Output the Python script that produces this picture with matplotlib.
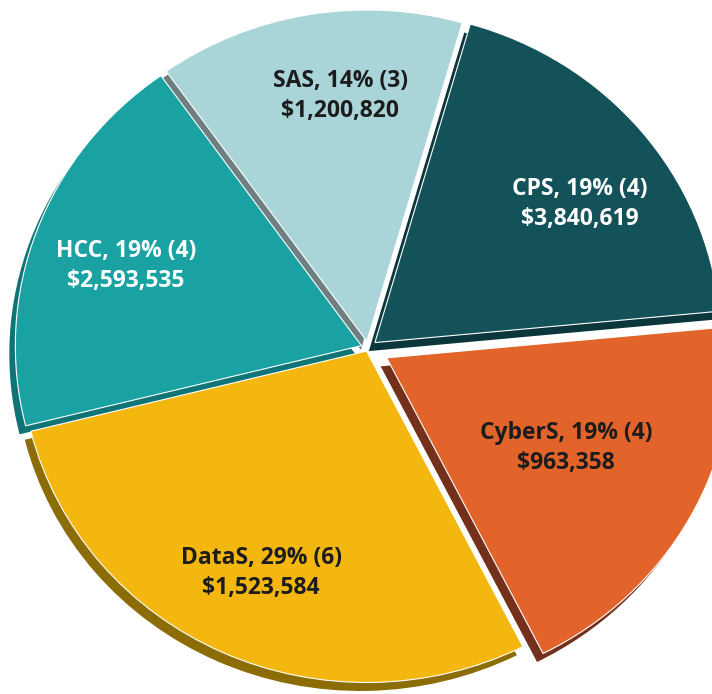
import matplotlib.pyplot as plt

# slice data (clockwise from the top)
programs = ["CPS", "CyberS", "DataS", "HCC", "SAS"]
counts = [4, 4, 6, 4, 3]
funding = ["$3,840,619", "$963,358", "$1,523,584", "$2,593,535", "$1,200,820"]

face_colors = ["#14525a", "#e2642b", "#f3b70f", "#1aa2a3", "#a9d5d9"]
rim_colors = ["#0b363c", "#74301a", "#8c6c05", "#0f7476", "#6e7f82"]
text_colors = ["white", "#1c1c1c", "#1c1c1c", "white", "#1c1c1c"]
explode = [0.025, 0.06, 0.01, 0.02, 0.02]

# where each label sits, in pie units from the center
label_xy = [(0.597, 0.424), (0.558, -0.294), (-0.301, -0.662),
            (-0.682, 0.241), (-0.079, 0.741)]

plt.rcParams["font.family"] = ["Open Sans", "DejaVu Sans"]

fig = plt.figure(figsize=(7.12, 6.94), dpi=100)
ax = fig.add_axes([0, 0, 1, 1])

# darker copy shifted down-left gives the 3D rim
ax.pie(counts, colors=rim_colors, explode=explode, startangle=74,
       counterclock=False, radius=0.975, center=(-0.017, -0.025),
       wedgeprops=dict(edgecolor="none"))

ax.pie(counts, colors=face_colors, explode=explode, startangle=74,
       counterclock=False, radius=0.975,
       wedgeprops=dict(edgecolor="white", linewidth=0.8))

total = sum(counts)
for i in range(len(programs)):
    txt = "%s, %d%% (%d)\n%s" % (programs[i], round(100 * counts[i] / total),
                                 counts[i], funding[i])
    ax.text(label_xy[i][0], label_xy[i][1], txt, color=text_colors[i],
            fontsize=16.5, fontweight="bold", ha="center", va="center",
            linespacing=1.35)

# the original pie is a touch wider than tall
ax.set_aspect("auto")
ax.set_xlim(-1.037, 0.969)
ax.set_ylim(-1.018, 1.024)
ax.axis("off")

fig.savefig("out.png", dpi=100)
